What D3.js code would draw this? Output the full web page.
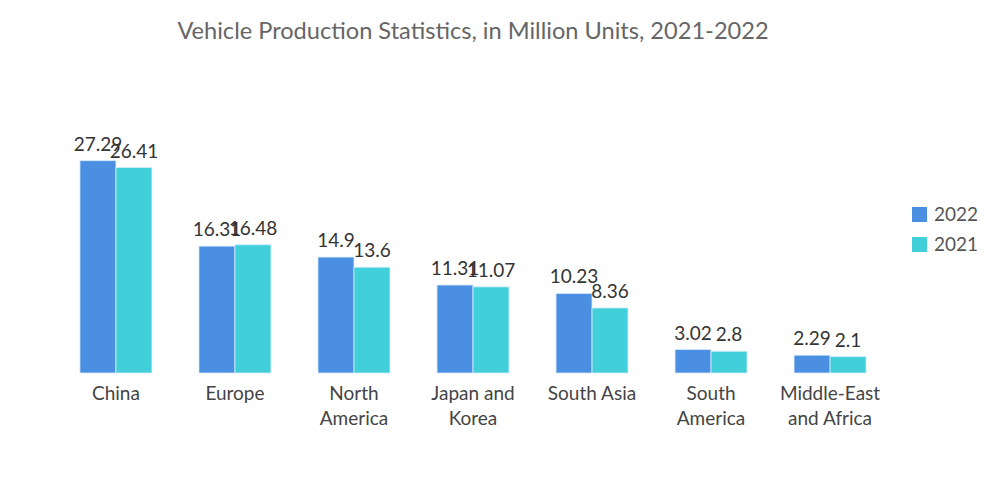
<!DOCTYPE html>
<html><head><meta charset="utf-8">
<script src="https://cdn.jsdelivr.net/npm/d3@7"></script>
<style>body{margin:0;background:#fff;} text{font-family:Lato,"Open Sans",sans-serif;}</style>
</head><body>
<svg id="c" width="1000" height="504"></svg>
<script>
const categories = [["China"],["Europe"],["North","America"],["Japan and","Korea"],["South Asia"],["South","America"],["Middle-East","and Africa"]];
const catKeys = ["China","Europe","North America","Japan and Korea","South Asia","South America","Middle-East and Africa"];
const seriesNames = ["2022","2021"];
const values2022 = [27.29,16.31,14.9,11.31,10.23,3.02,2.29];
const values2021 = [26.41,16.48,13.6,11.07,8.36,2.8,2.1];
const colors = ["#4a8fe2","#41d0d9"];

const svg = d3.select("#c");
const baseline = 373;
const x = d3.scaleBand().domain(catKeys).range([56.5, 889.5]).paddingInner(0.395).paddingOuter(0.197);
const x1 = d3.scaleBand().domain(seriesNames).range([0, x.bandwidth()]);
const y = d3.scaleLinear().domain([0, 30]).range([baseline, baseline - 30*7.78]);

svg.append("text").attr("x",473).attr("y",39).attr("text-anchor","middle")
  .attr("font-size",23.6).attr("fill","#666").text("Vehicle Production Statistics, in Million Units, 2021-2022");

const series = [values2022, values2021];
series.forEach((vals, si) => {
  const g = svg.append("g");
  g.selectAll("rect").data(vals).join("rect")
    .attr("x",(d,i)=>x(catKeys[i]) + x1(seriesNames[si]))
    .attr("y",d=>y(d)).attr("width",x1.bandwidth()).attr("height",d=>baseline-y(d))
    .attr("fill",colors[si]).attr("stroke","#d8ecfb").attr("stroke-width",0.8);
  g.selectAll("text").data(vals).join("text")
    .attr("x",(d,i)=>x(catKeys[i]) + x1(seriesNames[si]) + x1.bandwidth()/2)
    .attr("y",d=>y(d)-10).attr("text-anchor","middle").attr("font-size",19).attr("fill","#333")
    .text(d=>d);
});

const ax = svg.append("g");
categories.forEach((lines,i)=>{
  const t = ax.append("text").attr("x", x(catKeys[i]) + x.bandwidth()/2).attr("y", 400)
    .attr("text-anchor","middle").attr("font-size",19).attr("fill","#444");
  lines.forEach((l,j)=>t.append("tspan").attr("x", x(catKeys[i]) + x.bandwidth()/2).attr("dy", j===0?0:25).text(l));
});

const leg = svg.append("g");
seriesNames.forEach((s,i)=>{
  leg.append("rect").attr("x",912).attr("y",207+i*30).attr("width",15).attr("height",15).attr("fill",colors[i]);
  leg.append("text").attr("x",934).attr("y",221+i*30).attr("font-size",19).attr("fill","#555").text(s);
});
</script>
</body></html>
